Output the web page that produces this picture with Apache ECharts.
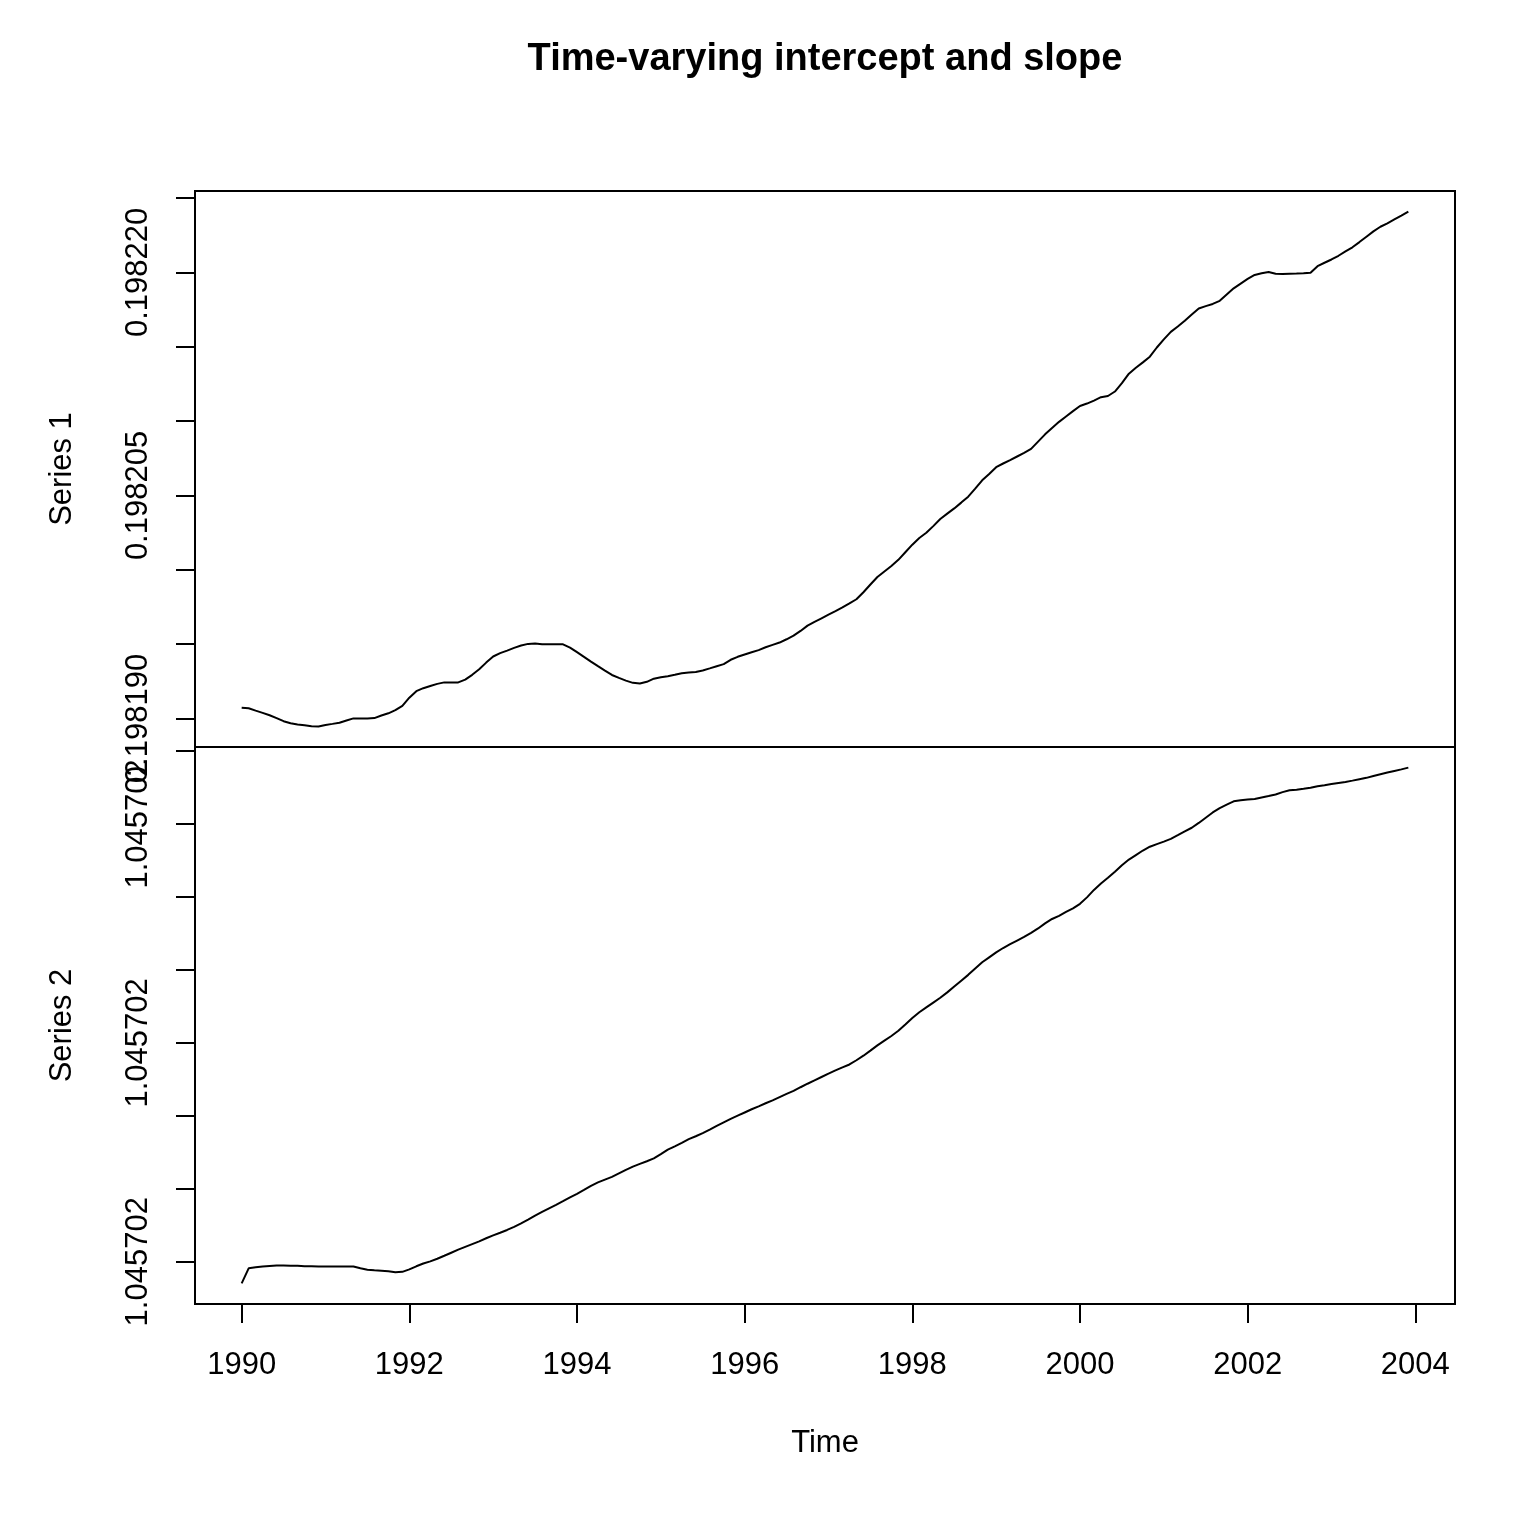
<!DOCTYPE html>
<html>
<head>
<meta charset="utf-8">
<script src="https://cdn.jsdelivr.net/npm/echarts@6/dist/echarts.min.js"></script>
<style>
html,body{margin:0;padding:0;background:#ffffff;}
#chart{width:1536px;height:1536px;}
</style>
</head>
<body>
<div id="chart"></div>
<script>
// ---- time series attributes (monthly ts starting 1990) ----
const startYear = 1990;
const frequency = 12;

// ---- Series 1 (time-varying intercept), monthly values ----
const series1 = [
0.19819073,0.19819069,0.19819053,0.19819038,0.19819022,0.19819003,0.19818982,0.19818968,0.19818960,0.19818955,0.19818948,0.19818947,
0.19818957,0.19818964,0.19818972,0.19818987,0.19819001,0.19819001,0.19819001,0.19819003,0.19819020,0.19819035,0.19819056,0.19819085,
0.19819140,0.19819184,0.19819204,0.19819219,0.19819233,0.19819243,0.19819243,0.19819243,0.19819262,0.19819294,0.19819331,0.19819376,
0.19819417,0.19819440,0.19819457,0.19819475,0.19819491,0.19819502,0.19819504,0.19819499,0.19819499,0.19819499,0.19819499,0.19819477,
0.19819446,0.19819415,0.19819383,0.19819352,0.19819322,0.19819293,0.19819273,0.19819255,0.19819240,0.19819235,0.19819247,0.19819268,
0.19819277,0.19819285,0.19819294,0.19819304,0.19819309,0.19819313,0.19819323,0.19819337,0.19819352,0.19819366,0.19819395,0.19819415,
0.19819431,0.19819446,0.19819460,0.19819479,0.19819495,0.19819511,0.19819533,0.19819557,0.19819589,0.19819625,0.19819650,0.19819674,
0.19819698,0.19819722,0.19819747,0.19819774,0.19819802,0.19819849,0.19819901,0.19819952,0.19819989,0.19820026,0.19820067,0.19820118,
0.19820169,0.19820214,0.19820249,0.19820294,0.19820342,0.19820378,0.19820413,0.19820452,0.19820492,0.19820546,0.19820602,0.19820645,
0.19820690,0.19820715,0.19820738,0.19820762,0.19820786,0.19820813,0.19820862,0.19820911,0.19820954,0.19820995,0.19821031,0.19821067,
0.19821102,0.19821118,0.19821138,0.19821161,0.19821169,0.19821199,0.19821255,0.19821319,0.19821359,0.19821395,0.19821433,0.19821495,
0.19821550,0.19821600,0.19821636,0.19821675,0.19821717,0.19821757,0.19821773,0.19821788,0.19821809,0.19821851,0.19821893,0.19821925,
0.19821956,0.19821983,0.19821995,0.19822003,0.19821991,0.19821990,0.19821991,0.19821992,0.19821994,0.19821998,0.19822042,0.19822065,
0.19822087,0.19822112,0.19822141,0.19822169,0.19822204,0.19822240,0.19822276,0.19822307,0.19822330,0.19822356,0.19822382,0.19822409
];

// ---- Series 2 (time-varying slope), monthly values ----
const series2 = [
1.0457017852,1.0457017955,1.0457017962,1.0457017968,1.0457017971,1.0457017974,1.0457017974,1.0457017973,1.0457017972,1.0457017970,1.0457017969,1.0457017968,
1.0457017968,1.0457017968,1.0457017968,1.0457017968,1.0457017968,1.0457017955,1.0457017946,1.0457017942,1.0457017939,1.0457017935,1.0457017928,1.0457017931,
1.0457017948,1.0457017969,1.0457017988,1.0457018003,1.0457018021,1.0457018041,1.0457018062,1.0457018083,1.0457018102,1.0457018121,1.0457018140,1.0457018161,
1.0457018181,1.0457018199,1.0457018218,1.0457018239,1.0457018263,1.0457018289,1.0457018316,1.0457018342,1.0457018366,1.0457018390,1.0457018415,1.0457018441,
1.0457018466,1.0457018492,1.0457018520,1.0457018544,1.0457018563,1.0457018582,1.0457018606,1.0457018630,1.0457018652,1.0457018671,1.0457018689,1.0457018709,
1.0457018738,1.0457018768,1.0457018791,1.0457018815,1.0457018840,1.0457018860,1.0457018882,1.0457018906,1.0457018931,1.0457018955,1.0457018979,1.0457019001,
1.0457019023,1.0457019045,1.0457019065,1.0457019086,1.0457019106,1.0457019128,1.0457019150,1.0457019171,1.0457019196,1.0457019220,1.0457019243,1.0457019266,
1.0457019289,1.0457019311,1.0457019332,1.0457019352,1.0457019381,1.0457019412,1.0457019447,1.0457019483,1.0457019515,1.0457019547,1.0457019583,1.0457019626,
1.0457019670,1.0457019710,1.0457019743,1.0457019776,1.0457019809,1.0457019846,1.0457019886,1.0457019926,1.0457019966,1.0457020009,1.0457020052,1.0457020086,
1.0457020120,1.0457020150,1.0457020176,1.0457020201,1.0457020226,1.0457020254,1.0457020284,1.0457020319,1.0457020349,1.0457020370,1.0457020397,1.0457020422,
1.0457020453,1.0457020497,1.0457020548,1.0457020592,1.0457020631,1.0457020673,1.0457020717,1.0457020756,1.0457020787,1.0457020818,1.0457020844,1.0457020862,
1.0457020879,1.0457020898,1.0457020923,1.0457020949,1.0457020974,1.0457021007,1.0457021043,1.0457021079,1.0457021109,1.0457021132,1.0457021155,1.0457021163,
1.0457021167,1.0457021171,1.0457021181,1.0457021191,1.0457021202,1.0457021218,1.0457021231,1.0457021235,1.0457021241,1.0457021248,1.0457021259,1.0457021266,
1.0457021274,1.0457021281,1.0457021288,1.0457021297,1.0457021307,1.0457021316,1.0457021329,1.0457021341,1.0457021352,1.0457021363,1.0457021374,1.0457021386
];

// ---- axis ticks and labels ----
const xTicks = [1990, 1992, 1994, 1996, 1998, 2000, 2002, 2004];
const y1Ticks = [0.198190, 0.198195, 0.198200, 0.198205, 0.198210, 0.198215, 0.198220, 0.198225];
const y1Labels = [0.198190, 0.198205, 0.198220];
const y2Ticks = [1.0457018, 1.04570185, 1.0457019, 1.04570195, 1.045702, 1.04570205, 1.0457021, 1.04570215];
const y2Labels = [1.0457018, 1.04570195, 1.0457021];

const titleText = 'Time-varying intercept and slope';
const xName = 'Time';
const y1Name = 'Series 1';
const y2Name = 'Series 2';

// ---- build ----
const FONT = '"Liberation Sans", Arial, Helvetica, sans-serif';
const toPairs = arr => arr.map((v, i) => [startYear + i / frequency, v]);

function rangeOf(arr) {
  const lo = Math.min.apply(null, arr), hi = Math.max.apply(null, arr);
  const pad = (hi - lo) * 0.04; // R's default axis extension
  return [lo - pad, hi + pad];
}
const tEnd = startYear + (series1.length - 1) / frequency;
const xPad = (tEnd - startYear) * 0.04;
const xMin = startYear - xPad, xMax = tEnd + xPad;
const r1 = rangeOf(series1), r2 = rangeOf(series2);

const txt = { color: '#000', fontSize: 31, fontFamily: FONT };

function yAxis(gi, rng, ticks, labels, name, fmt) {
  return {
    type: 'value', gridIndex: gi, min: rng[0], max: rng[1], scale: true,
    axisLine: { show: false },
    axisTick: { show: true, inside: false, length: 19, customValues: ticks,
                lineStyle: { color: '#000', width: 2 } },
    axisLabel: Object.assign({ show: true, customValues: labels, rotate: 90, margin: 41,
                formatter: fmt }, txt),
    splitLine: { show: false },
    name: name, nameLocation: 'middle', nameGap: 117, nameRotate: 90,
    nameTextStyle: Object.assign({}, txt)
  };
}

const option = {
  animation: false,
  backgroundColor: '#ffffff',
  grid: [
    { left: 195, top: 191, width: 1260, height: 556, show: true, borderColor: '#000', borderWidth: 2,
      backgroundColor: 'transparent', containLabel: false, outerBoundsMode: 'none' },
    { left: 195, top: 747, width: 1260, height: 557, show: true, borderColor: '#000', borderWidth: 2,
      backgroundColor: 'transparent', containLabel: false, outerBoundsMode: 'none' }
  ],
  xAxis: [
    { type: 'value', gridIndex: 0, min: xMin, max: xMax, show: false },
    { type: 'value', gridIndex: 1, min: xMin, max: xMax,
      axisLine: { show: false },
      axisTick: { show: true, inside: false, length: 19, customValues: xTicks,
                  lineStyle: { color: '#000', width: 2 } },
      axisLabel: Object.assign({ show: true, customValues: xTicks, margin: 46,
                  formatter: v => String(Math.round(v)) }, txt),
      splitLine: { show: false },
      name: xName, nameLocation: 'middle', nameGap: 124,
      nameTextStyle: Object.assign({}, txt) }
  ],
  yAxis: [
    yAxis(0, r1, y1Ticks, y1Labels, y1Name, v => v.toFixed(6)),
    yAxis(1, r2, y2Ticks, y2Labels, y2Name, v => v.toPrecision(7))
  ],
  graphic: [
    { type: 'text', x: 825, y: 60, silent: true,
      style: { text: titleText, fill: '#000', fontSize: 38, fontWeight: 'bold', fontFamily: FONT,
               align: 'center', verticalAlign: 'middle' } }
  ],
  series: [
    { type: 'line', xAxisIndex: 0, yAxisIndex: 0, data: toPairs(series1), symbol: 'none',
      showSymbol: false, silent: true, lineStyle: { color: '#000', width: 2 } },
    { type: 'line', xAxisIndex: 1, yAxisIndex: 1, data: toPairs(series2), symbol: 'none',
      showSymbol: false, silent: true, lineStyle: { color: '#000', width: 2 } }
  ]
};

const chart = echarts.init(document.getElementById('chart'), null, { renderer: 'canvas' });
chart.setOption(option);
</script>
</body>
</html>
